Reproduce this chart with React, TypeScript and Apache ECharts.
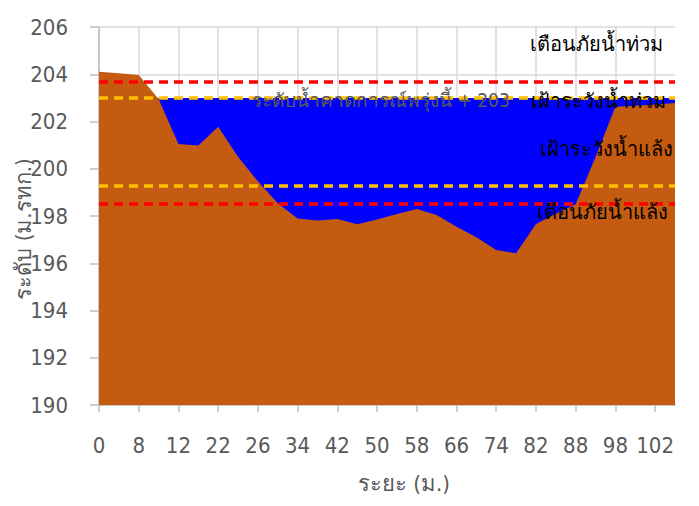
import React, { useEffect, useRef } from "react";
import * as echarts from "echarts";

const categories = ["0", "4", "8", "10", "12", "16", "22", "24", "26", "30", "34", "38", "42", "46", "50", "54", "58", "62", "66", "70", "74", "78", "82", "86", "88", "94", "98", "100", "102", "104"];
const groundLevel = [204.11, 204.04, 203.97, 202.95, 201.05, 200.98, 201.78, 200.51, 199.47, 198.54, 197.89, 197.81, 197.87, 197.65, 197.85, 198.08, 198.3, 198.04, 197.55, 197.1, 196.56, 196.42, 197.66, 198.1, 198.5, 200.5, 202.62, 202.67, 202.72, 202.78];
const waterLevel = [203, 203, 203, 203, 203, 203, 203, 203, 203, 203, 203, 203, 203, 203, 203, 203, 203, 203, 203, 203, 203, 203, 203, 203, 203, 203, 203, 203, 203, 203];
const thresholdNames = ["เตือนภัยน้ำท่วม", "เฝ้าระวังน้ำท่วม", "เฝ้าระวังน้ำแล้ง", "เตือนภัยน้ำแล้ง"];
const thresholdValues = [203.7, 203.0, 199.3, 198.5];
const thresholdColors = ["#FF0000", "#FFC000", "#FFC000", "#FF0000"];
const forecastLabel = "ระดับน้ำคาดการณ์พรุ่งนี้ + 203";
const xAxisName = "ระยะ (ม.)";
const yAxisName = "ระดับ (ม.รทก.)";
const yTicks = { min: 190, max: 206, interval: 2 };

const FONT = "'DejaVu Sans Condensed', 'Liberation Sans', Tahoma, sans-serif";

export default function App() {
  const ref = useRef<HTMLDivElement>(null);
  useEffect(() => {
    if (!ref.current) return;
    const chart = echarts.init(ref.current, null, { renderer: "svg" });
    const labelY = [46, 103, 151, 214];
    const labelRight = [36, 33, 26, 31];
    chart.setOption({
      animation: false,
      backgroundColor: "#FFFFFF",
      grid: { left: 99, right: 24, top: 27, bottom: 101, containLabel: false, outerBoundsMode: "none" },
      xAxis: {
        type: "category",
        data: categories,
        boundaryGap: false,
        axisLine: { lineStyle: { color: "#BFBFBF", width: 1.5 } },
        axisTick: { show: true, interval: 1, length: 7, lineStyle: { color: "#BFBFBF", width: 1.5 } },
        axisLabel: { interval: 1, margin: 29, color: "#595959", fontSize: 22, fontFamily: FONT },
        splitLine: { show: true, interval: 1, lineStyle: { color: "#D9D9D9", width: 1.5 } },
      },
      yAxis: {
        type: "value",
        min: yTicks.min,
        max: yTicks.max,
        interval: yTicks.interval,
        axisLine: { show: true, lineStyle: { color: "#BFBFBF", width: 1.5 } },
        axisTick: { show: true, length: 9, lineStyle: { color: "#BFBFBF", width: 1.5 } },
        axisLabel: { margin: 31, color: "#595959", fontSize: 22, fontFamily: FONT },
        splitLine: { show: true, lineStyle: { color: "#D9D9D9", width: 1.5 } },
      },
      series: [
        {
          name: "water",
          type: "line",
          data: waterLevel,
          symbol: "none",
          lineStyle: { width: 0 },
          areaStyle: { color: "#0000FF", opacity: 1 },
          z: 2,
        },
        {
          name: "ground",
          type: "line",
          data: groundLevel,
          symbol: "none",
          lineStyle: { width: 0 },
          areaStyle: { color: "#C55A11", opacity: 1 },
          z: 3,
        },
        {
          name: "thresholds",
          type: "line",
          data: [],
          z: 5,
          markLine: {
            silent: true,
            symbol: "none",
            label: { show: false },
            data: thresholdValues.map((v, i) => ({
              yAxis: v,
              lineStyle: { color: thresholdColors[i], type: [9, 6], width: 3.5 },
            })),
          },
        },
      ],
      graphic: [
        ...thresholdNames.map((t, i) => ({
          type: "text",
          right: labelRight[i],
          top: labelY[i] - 12,
          z: 10,
          style: { text: t, fill: "#000000", fontSize: 20, fontFamily: FONT },
        })),
        {
          type: "text",
          left: 252,
          top: 90,
          z: 10,
          style: { text: forecastLabel, fill: "#595959", fontSize: 19, fontFamily: FONT },
        },
        {
          type: "text",
          x: 404,
          y: 483,
          z: 10,
          style: { text: xAxisName, fill: "#595959", fontSize: 22, fontFamily: FONT, align: "center", verticalAlign: "middle" },
        },
        {
          type: "text",
          x: 23,
          y: 229,
          rotation: Math.PI / 2,
          z: 10,
          style: { text: yAxisName, fill: "#595959", fontSize: 22, fontFamily: FONT, align: "center", verticalAlign: "middle" },
        },
      ],
    });
    return () => chart.dispose();
  }, []);
  return <div ref={ref} style={{ width: 699, height: 506, position: "absolute", left: 0, top: 0 }} />;
}
